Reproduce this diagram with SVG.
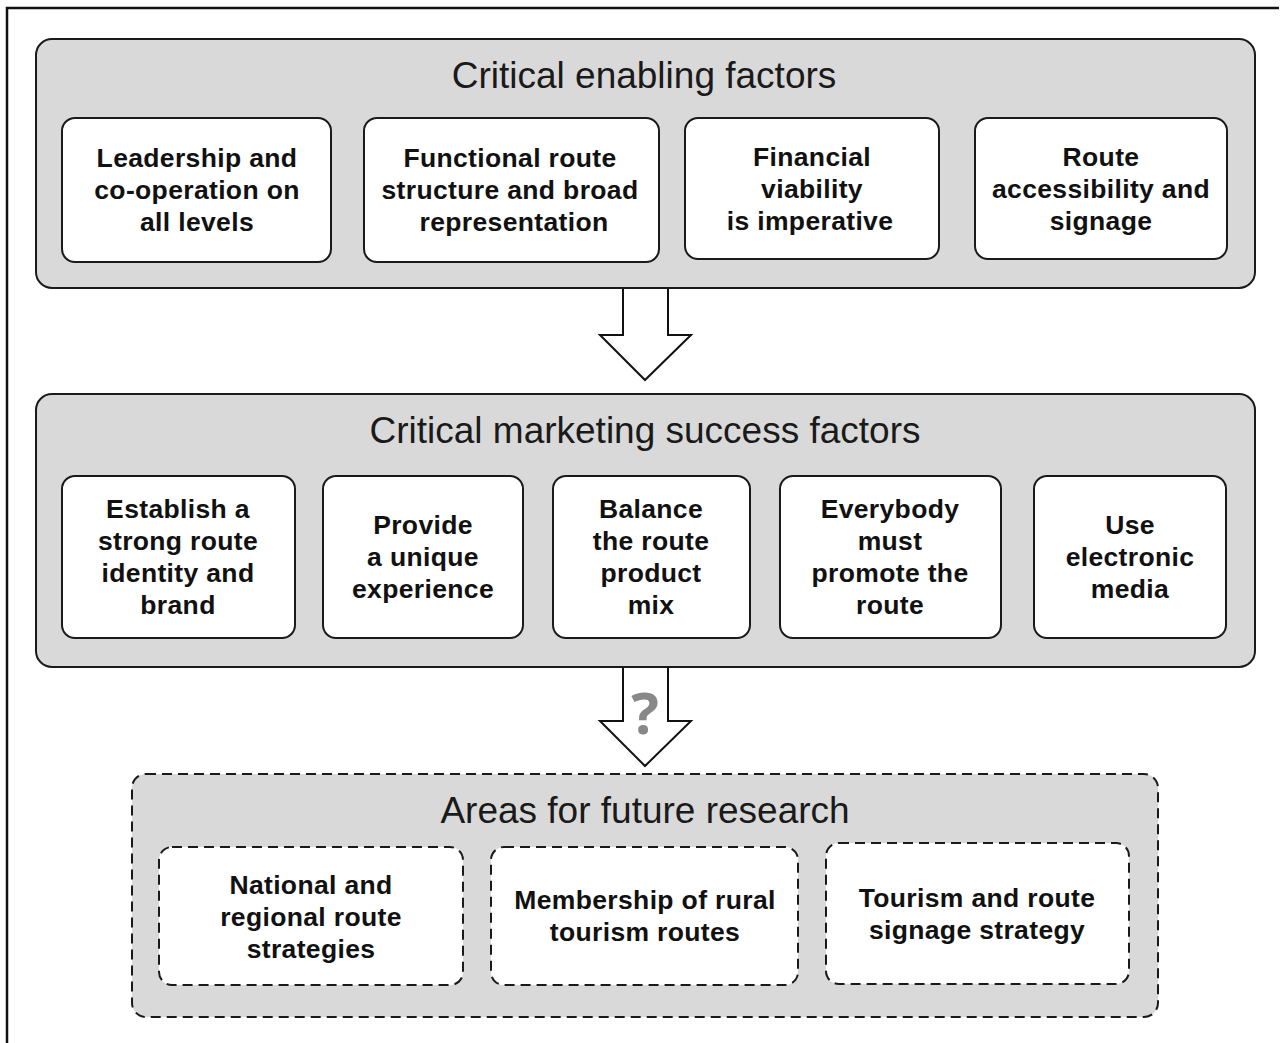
<svg xmlns="http://www.w3.org/2000/svg" width="1281" height="1043" viewBox="0 0 1281 1043">
<style>
.panel{fill:#d9d9d9;stroke:#1a1a1a;stroke-width:2}
.box{fill:#ffffff;stroke:#1a1a1a;stroke-width:2}
.dash{stroke-dasharray:10 6}
.title{font-family:"Liberation Sans",Arial,sans-serif;font-size:37px;fill:#1a1a1a;text-anchor:middle}
.lbl{font-family:"Liberation Sans",Arial,sans-serif;font-size:26.5px;letter-spacing:0.35px;font-weight:bold;fill:#111;text-anchor:middle}
.arrow{fill:#ffffff;stroke:#111;stroke-width:2;stroke-linejoin:miter}
</style>
<rect width="1281" height="1043" fill="#ffffff"/>
<path d="M7,1043 V8 H1279" fill="none" stroke="#111" stroke-width="2.5"/>

<g id="panel-enabling">
<rect class="panel" x="36" y="39" width="1219" height="249" rx="16"/>
<text class="title" x="644" y="88">Critical enabling factors</text>
</g>
<g id="node-leadership">
<rect class="box" x="62" y="118" width="269" height="144" rx="13"/>
<text class="lbl" x="197" y="167">Leadership and</text>
<text class="lbl" x="197" y="199">co-operation on</text>
<text class="lbl" x="197" y="231">all levels</text>
</g>
<g id="node-functional">
<rect class="box" x="364" y="118" width="295" height="144" rx="13"/>
<text class="lbl" x="510" y="167">Functional route</text>
<text class="lbl" x="510" y="199">structure and broad</text>
<text class="lbl" x="514" y="231">representation</text>
</g>
<g id="node-financial">
<rect class="box" x="685" y="118" width="254" height="141" rx="13"/>
<text class="lbl" x="812" y="166">Financial</text>
<text class="lbl" x="812" y="198">viability</text>
<text class="lbl" x="810" y="230">is imperative</text>
</g>
<g id="node-accessibility">
<rect class="box" x="975" y="118" width="252" height="141" rx="13"/>
<text class="lbl" x="1101" y="166">Route</text>
<text class="lbl" x="1101" y="198">accessibility and</text>
<text class="lbl" x="1101" y="230">signage</text>
</g>

<g id="panel-marketing">
<rect class="panel" x="36" y="394" width="1219" height="273" rx="16"/>
<text class="title" x="645" y="443">Critical marketing success factors</text>
</g>
<g id="node-identity">
<rect class="box" x="62" y="476" width="233" height="162" rx="13"/>
<text class="lbl" x="178" y="518">Establish a</text>
<text class="lbl" x="178" y="550">strong route</text>
<text class="lbl" x="178" y="582">identity and</text>
<text class="lbl" x="178" y="614">brand</text>
</g>
<g id="node-experience">
<rect class="box" x="323" y="476" width="200" height="162" rx="13"/>
<text class="lbl" x="423" y="534">Provide</text>
<text class="lbl" x="423" y="566">a unique</text>
<text class="lbl" x="423" y="598">experience</text>
</g>
<g id="node-balance">
<rect class="box" x="553" y="476" width="197" height="162" rx="13"/>
<text class="lbl" x="651" y="518">Balance</text>
<text class="lbl" x="651" y="550">the route</text>
<text class="lbl" x="651" y="582">product</text>
<text class="lbl" x="651" y="614">mix</text>
</g>
<g id="node-everybody">
<rect class="box" x="780" y="476" width="221" height="162" rx="13"/>
<text class="lbl" x="890" y="518">Everybody</text>
<text class="lbl" x="890" y="550">must</text>
<text class="lbl" x="890" y="582">promote the</text>
<text class="lbl" x="890" y="614">route</text>
</g>
<g id="node-electronic">
<rect class="box" x="1034" y="476" width="192" height="162" rx="13"/>
<text class="lbl" x="1130" y="534">Use</text>
<text class="lbl" x="1130" y="566">electronic</text>
<text class="lbl" x="1130" y="598">media</text>
</g>

<g id="panel-research">
<rect class="panel dash" x="132" y="774" width="1026" height="243" rx="14"/>
<text class="title" x="645" y="823">Areas for future research</text>
</g>
<g id="node-national">
<rect class="box dash" x="159" y="847" width="304" height="138" rx="13"/>
<text class="lbl" x="311" y="894">National and</text>
<text class="lbl" x="311" y="926">regional route</text>
<text class="lbl" x="311" y="958">strategies</text>
</g>
<g id="node-membership">
<rect class="box dash" x="491" y="847" width="307" height="138" rx="13"/>
<text class="lbl" x="645" y="909">Membership of rural</text>
<text class="lbl" x="645" y="941">tourism routes</text>
</g>
<g id="node-signage">
<rect class="box dash" x="826" y="843" width="303" height="141" rx="13"/>
<text class="lbl" x="977" y="907">Tourism and route</text>
<text class="lbl" x="977" y="939">signage strategy</text>
</g>

<g id="connectors">
<path class="arrow" d="M623,289 V335 H600 L645,380 L691,335 H668 V289"/>
<path class="arrow" d="M623,668 V721 H600 L645,766 L691,721 H668 V668"/>
<text x="645" y="734" font-family="Open Sans,Liberation Sans,sans-serif" font-size="58" font-weight="bold" fill="#888888" text-anchor="middle">?</text>
</g>
</svg>
